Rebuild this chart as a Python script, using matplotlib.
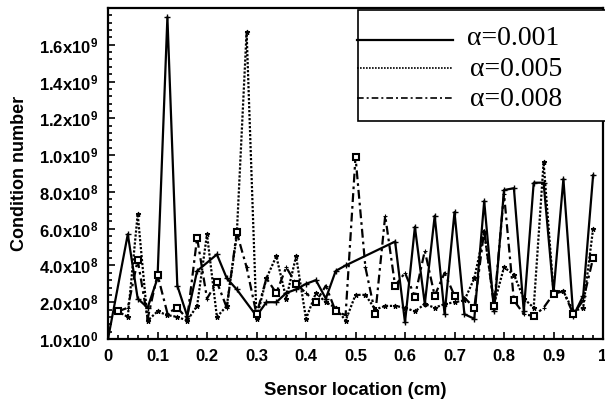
import matplotlib
matplotlib.use("Agg")
import matplotlib.pyplot as plt
import numpy as np
from matplotlib.lines import Line2D
from matplotlib.patches import Rectangle
from matplotlib.ticker import FixedLocator, MultipleLocator

plt.rcParams['font.family'] = ['Liberation Sans', 'DejaVu Sans']
plt.rcParams['mathtext.fontset'] = 'custom'
plt.rcParams['mathtext.rm'] = 'Liberation Sans:bold'
plt.rcParams['mathtext.bf'] = 'Liberation Sans:bold'
plt.rcParams['mathtext.default'] = 'rm'

# alpha = 0.001 (solid)
x_a1 = [0.00, 0.04, 0.06, 0.08, 0.10, 0.12, 0.14, 0.16, 0.18, 0.22, 0.24, 0.26,
        0.30, 0.32, 0.34, 0.36, 0.38, 0.40, 0.42, 0.44, 0.46, 0.48, 0.58, 0.60,
        0.62, 0.64, 0.66, 0.68, 0.70, 0.72, 0.74, 0.76, 0.78, 0.80, 0.82, 0.84,
        0.86, 0.88, 0.90, 0.92, 0.94, 0.96, 0.98]
y_a1 = [0.0, 5.7, 2.2, 1.7, 3.3, 17.5, 2.9, 1.25, 3.7, 4.6, 3.3, 2.7,
        1.25, 2.0, 2.0, 2.5, 2.7, 3.0, 3.2, 2.2, 3.7, 4.0, 5.3, 0.9,
        6.1, 1.9, 6.7, 1.35, 6.9, 1.35, 1.1, 7.5, 1.5, 8.1, 8.2, 1.5,
        8.5, 8.5, 2.5, 8.7, 1.25, 2.35, 8.9]

# sensor grid for the other two curves
x_grid = [0.02, 0.04, 0.06, 0.08, 0.10, 0.12, 0.14, 0.16, 0.18, 0.20,
          0.22, 0.24, 0.26, 0.28, 0.30, 0.32, 0.34, 0.36, 0.38, 0.40,
          0.42, 0.44, 0.46, 0.48, 0.50, 0.52, 0.54, 0.56, 0.58, 0.60,
          0.62, 0.64, 0.66, 0.68, 0.70, 0.72, 0.74, 0.76, 0.78, 0.80,
          0.82, 0.84, 0.86, 0.88, 0.90, 0.92, 0.94, 0.96, 0.98]

# alpha = 0.005 (dotted)
y_a5 = [1.5, 1.2, 6.8, 1.0, 1.5, 1.3, 1.2, 1.0, 1.8, 5.7,
        1.2, 1.8, 5.6, 16.7, 1.1, 3.3, 4.5, 2.2, 4.5, 1.1,
        2.5, 2.0, 1.7, 1.0, 2.4, 2.4, 1.6, 1.8, 1.8, 1.7,
        1.5, 1.9, 1.7, 1.9, 2.0, 2.1, 3.3, 5.8, 1.9, 3.9,
        3.5, 2.2, 1.7, 9.6, 2.6, 2.6, 1.5, 1.7, 6.0]

# alpha = 0.008 (dash-dot)
y_a8 = [1.5, 1.7, 4.3, 1.1, 3.5, 1.4, 1.7, 1.1, 5.5, 2.2,
        3.1, 1.7, 5.8, 3.9, 1.35, 3.3, 2.5, 3.9, 3.0, 2.5,
        2.0, 2.9, 1.5, 1.3, 9.9, 3.9, 1.35, 6.7, 2.9, 3.6,
        2.3, 4.8, 2.35, 3.6, 2.35, 2.25, 1.7, 5.9, 1.8, 7.9,
        2.1, 1.35, 1.25, 1.7, 2.45, 2.6, 1.35, 2.1, 4.4]

labels = ['α=0.001', 'α=0.005', 'α=0.008']
ytick_vals = [0, 2e8, 4e8, 6e8, 8e8, 1.0e9, 1.2e9, 1.4e9, 1.6e9, 1.8e9]
ytick_text = ['1.0x10$^{0}$', '2.0x10$^{8}$', '4.0x10$^{8}$', '6.0x10$^{8}$',
              '8.0x10$^{8}$', '1.0x10$^{9}$', '1.2x10$^{9}$', '1.4x10$^{9}$',
              '1.6x10$^{9}$', '']
xtick_vals = [0, 0.1, 0.2, 0.3, 0.4, 0.5, 0.6, 0.7, 0.8, 0.9, 1.0]
xtick_text = ['0', '0.1', '0.2', '0.3', '0.4', '0.5', '0.6', '0.7', '0.8', '0.9', '1']

W, H = 605, 400
fig = plt.figure(figsize=(W / 100, H / 100), dpi=100)
ax = fig.add_axes([108 / W, 61 / H, 495 / W, 331 / H])

s1 = np.array(y_a1) * 1e8
s5 = np.array(y_a5) * 1e8
s8 = np.array(y_a8) * 1e8

dot = (0, (1, 0.8))
dashdot = (0, (4, 1.8, 1.2, 1.8))

ax.plot(x_a1, s1, color='black', lw=1.6, ls='-', marker='+', ms=4, mew=1)
ax.plot(x_grid, s5, color='black', lw=1.6, ls=dot, marker='*', ms=3.5, mew=0.8)
ax.plot(x_grid, s8, color='black', lw=1.6, ls=dashdot, marker='+', ms=3, mew=0.8)
ax.plot(x_grid[::2], s8[::2], ls='none', marker='s', ms=5, mfc='white',
        mec='black', mew=1.5)

ax.set_xlim(0, 1.0)
ax.set_ylim(0, 1.8e9)
ax.yaxis.set_major_locator(FixedLocator(ytick_vals))
ax.set_yticklabels(ytick_text)
ax.yaxis.set_minor_locator(MultipleLocator(4e7))
ax.xaxis.set_major_locator(FixedLocator(xtick_vals))
ax.set_xticklabels(xtick_text)
ax.xaxis.set_minor_locator(MultipleLocator(0.02))

ax.tick_params(which='both', direction='in', width=1.2, labelsize=12)
ax.tick_params(which='major', length=5)
ax.tick_params(which='minor', length=3)
ax.tick_params(axis='x', pad=7)
ax.tick_params(axis='y', pad=7)
for lab in ax.get_xticklabels() + ax.get_yticklabels():
    lab.set_fontweight('bold')
for sp in ax.spines.values():
    sp.set_linewidth(1.6)

ax.set_xlabel('Sensor location (cm)', fontsize=13.3, fontweight='bold', labelpad=13)
ax.set_ylabel('Condition number', fontsize=13, fontweight='bold', labelpad=8)

# legend box, drawn by hand so it can run off the right edge like the original
def fx(px):
    return px / W

def fy(py):
    return 1 - py / H

fig.patches.append(Rectangle((fx(358), fy(121)), fx(660) - fx(358), fy(10) - fy(121),
                             transform=fig.transFigure, fill=True, facecolor='white',
                             edgecolor='black', lw=1.2, zorder=5))
leg_styles = [('-', 1.6), (dot, 1.2), (dashdot, 1.2)]
row_y = [40, 68, 98]
text_x = [467, 470, 470]
text_base = [45, 76, 106]
for (ls, lw), ry, tx, tb, lab in zip(leg_styles, row_y, text_x, text_base, labels):
    fig.add_artist(Line2D([fx(357), fx(453)], [fy(ry), fy(ry)], color='black',
                          ls=ls, lw=lw, transform=fig.transFigure, zorder=6))
    fig.text(fx(tx), fy(tb), lab, family='Liberation Serif', fontsize=20,
             va='baseline', ha='left', zorder=6)

fig.savefig('out.png', dpi=100)
